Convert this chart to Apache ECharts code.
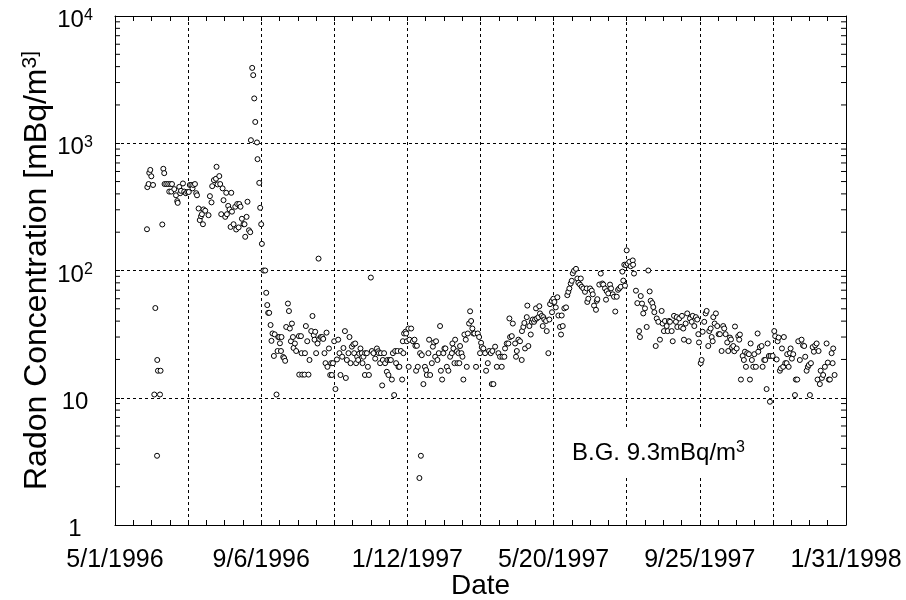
<!DOCTYPE html>
<html><head><meta charset="utf-8">
<script src="https://cdn.jsdelivr.net/npm/echarts@6/dist/echarts.min.js"></script>
<style>html,body{margin:0;padding:0;background:#fff}#c{width:906px;height:600px}</style>
</head><body><div id="c"></div>
<script>
// x axis: days since 5/1/1996
const xTickLabels = ['5/1/1996', '9/6/1996', '1/12/1997', '5/20/1997', '9/25/1997', '1/31/1998'];
const yTickLabels = ['1', '10', '10^2', '10^3', '10^4'];
const yMinorTickValues = [2,3,4,5,6,7,8,9,20,30,40,50,60,70,80,90,200,300,400,500,600,700,800,900,2000,3000,4000,5000,6000,7000,8000,9000];
const xAxisTitle = 'Date';
const yAxisTitle = 'Radon Concentration [mBq/m^3]';
const annotationText = 'B.G. 9.3mBq/m^3';

const dayOffsets = [
28.0,28.3,29.4,30.0,30.9,31.8,33.3,34.4,35.3,36.8,37.0,37.6,39.4,39.9,41.4,42.3,43.1,43.4,44.9,46.6,
47.5,48.4,49.3,49.9,51.9,53.4,54.5,54.9,56.3,57.1,57.8,59.5,60.6,62.0,63.3,64.6,65.5,66.8,67.9,68.5,
70.0,71.1,71.8,73.2,74.2,75.3,76.1,77.0,77.5,79.0,81.9,83.1,84.5,85.1,86.6,88.4,88.9,89.8,91.3,92.1,
93.0,94.2,95.0,96.5,97.4,98.0,99.1,100.3,101.2,101.8,102.4,103.8,105.3,106.1,107.0,108.2,108.8,109.9,111.1,112.5,
113.4,114.0,115.2,116.0,117.3,118.4,119.0,120.1,121.0,121.9,122.8,124.3,124.8,126.3,127.1,128.0,128.6,130.0,131.5,132.4,
133.3,134.1,135.0,136.2,137.0,137.9,139.1,139.8,141.4,142.3,142.9,143.8,144.4,145.3,145.8,147.3,148.1,149.0,149.9,151.4,
152.3,153.1,154.0,154.9,155.8,156.3,157.5,158.6,161.0,161.3,162.8,163.3,163.9,165.9,166.3,167.1,168.3,169.4,170.3,171.8,
172.9,174.0,174.7,175.3,176.1,177.3,178.2,178.8,180.1,181.4,182.3,183.4,184.3,185.2,186.0,187.3,188.4,189.3,189.9,190.8,
191.9,193.0,194.3,195.4,196.5,197.4,198.9,200.0,201.3,202.1,203.0,204.4,205.3,206.2,207.4,208.8,209.4,210.3,211.1,212.0,
212.9,213.8,214.9,216.1,216.7,217.5,218.8,219.0,220.5,221.4,222.3,224.0,224.9,226.3,227.8,229.3,230.4,231.0,232.1,232.8,
233.9,234.5,235.6,236.5,238.0,238.5,239.4,240.3,241.5,242.4,243.3,244.4,245.3,246.1,247.3,248.2,249.0,250.3,251.4,252.0,
252.5,253.1,254.3,254.9,255.5,256.9,257.1,257.8,259.3,260.8,262.2,263.0,263.6,264.3,265.1,266.5,267.1,267.8,268.6,270.0,
271.3,272.4,273.0,274.4,275.0,275.9,277.4,278.3,279.4,280.3,281.1,282.3,283.5,284.6,285.3,286.4,287.5,288.4,289.3,290.5,
291.9,293.4,294.9,295.4,296.3,297.2,297.8,299.3,299.8,300.7,301.5,302.1,303.3,304.2,305.0,305.9,307.1,308.0,308.9,310.0,
310.9,311.8,312.9,313.8,314.7,316.1,317.6,318.8,319.6,320.5,321.1,322.5,324.0,324.9,326.4,327.5,329.0,329.9,330.4,331.3,
332.8,334.3,335.7,337.1,338.6,339.2,340.9,341.5,343.0,344.4,345.3,345.9,347.4,348.3,350.3,351.1,351.8,353.2,354.6,356.1,
356.3,357.5,358.4,359.0,360.5,361.0,361.9,362.8,364.0,364.9,365.8,366.9,367.8,368.6,369.3,370.7,371.5,372.1,373.6,374.5,
375.0,375.9,377.4,378.0,379.4,380.3,380.9,382.4,382.6,383.8,384.7,385.9,387.3,388.2,389.6,390.5,391.1,392.0,393.4,394.9,
396.0,396.9,397.8,399.0,399.9,400.8,401.9,403.6,404.8,405.7,407.1,407.8,408.6,410.0,411.5,413.0,413.5,414.4,415.9,417.4,
418.3,419.4,421.1,421.8,422.3,424.0,425.3,426.7,427.5,429.0,429.9,430.5,431.9,433.4,434.3,435.8,436.9,438.0,439.3,440.4,
441.5,442.8,444.2,445.0,445.9,446.5,447.4,448.0,448.9,450.3,451.5,453.3,453.6,454.4,456.1,457.3,458.8,459.6,460.3,461.4,
462.5,464.0,465.5,466.9,468.1,469.0,470.4,471.3,472.2,473.4,474.3,475.7,477.1,478.6,479.5,480.6,481.5,483.0,483.9,485.0,
485.9,487.4,488.3,489.4,491.1,491.8,492.3,494.0,495.5,496.4,497.5,498.1,499.6,501.0,502.3,503.4,504.9,505.8,507.2,508.6,
509.8,510.7,511.3,512.8,513.6,514.5,515.9,517.1,518.0,519.4,520.3,521.5,522.4,523.3,523.8,525.0,526.1,527.3,528.5,529.6,
531.1,532.5,533.4,534.6,536.0,536.9,538.4,539.3,540.1,541.3,542.2,542.8,544.3,545.7,546.5,547.1,548.0,549.5,550.6,551.5,
552.4,553.5,555.0,555.9,556.5,557.6,558.8,559.7,561.1,562.6,563.2,564.6,566.1,567.0,568.4,569.3,570.5,571.4,572.5,573.4,
574.0,575.8,577.2,578.0,579.3,580.1,581.0,582.1,583.0,583.9,585.0,585.6,586.8,588.0,588.5,589.8,590.9,591.5,592.6,593.8,
595.3,596.1,597.3,598.2,599.6,601.1,602.3,603.4,604.3,605.5,606.6,607.5,608.4,609.3,610.8,611.9,613.0,614.3,615.1,616.0,
617.1,617.8,618.9,620.0,621.5,623.0,624.1,625.0,625.9,627.4,628.3,628.8,630.0
];
const radonValues = [
211,452,478,585,617,550,470,10.6,50.7,3.5,19.8,16.3,10.6,16.3,230,630,582,478,478,478,
417,478,417,478,436,390,351,340,454,405,423,483,417,405,414,414,470,470,442,470,
478,405,390,307,249,267,277,231,302,295,272,384,343,460,513,526,653,475,552,478,
277,442,357,264,408,277,322,302,220,408,290,231,317,210,333,218,333,317,255,231,
231,184,264,347,207,200,1057,3910,3430,2250,1470,1015,750,488,311,231,162,100,100,66.8,
53.5,46.5,46.5,37.3,28,32,21.3,31.5,10.6,23.3,30,30,26.8,23.3,30,20.9,20.5,19.5,36,55,
48,35,27.8,38.3,30,24.6,26.7,23.3,30.5,15.2,30.5,22.4,15.2,15.2,22.4,36.6,27.8,15.2,19.8,33.4,
43.9,31,28.6,33,22.4,26.7,124,29,30,30,29,22.4,18.7,32.5,17.5,24.4,15.1,18.7,15.1,18.7,
27.8,11.7,20,28.6,22.4,15.1,21,24.6,33.4,14.3,19.8,22.4,30,18.7,25.2,26.3,22.4,26.7,18.7,21,
19.8,22.2,24.4,22.4,18.7,21,15.1,22.4,22.4,17.5,15.1,88,23.3,22.4,20.3,24.4,23.2,22.4,18.7,22.4,
12.5,19.8,22.4,18.7,16,19.8,15.1,19.8,19.8,13.9,22.4,10.5,23.3,18.7,23.3,17.5,17.5,23.3,13.9,27.8,
22.4,32,33,32,27.8,35,17.5,28.6,35,27.8,28.6,25.6,16.3,25.6,17.5,2.34,22.4,3.5,21.6,12.8,
17.5,16.5,15.1,22.4,28.6,15.1,18.7,25.2,27.2,21,27.8,19.8,22.4,36.6,16.3,13.9,22.4,24.4,24.4,17.5,
16.3,21,22.4,26.7,24.4,18.7,28.6,23.2,18.7,22.4,18.7,25.5,22.4,21,13.9,31.4,28.6,17.5,32,38.3,
47.8,40.1,35,32,32,17.5,32,30,22.4,27,25,24.4,22.4,16.3,18.7,23.3,22.4,12.8,23.3,12.8,
25.2,17.5,22.4,21,17.5,21,21,24.4,26.7,26.7,42,30,30.5,38.3,26.7,21,23.3,28.6,27.8,19.8,
33.4,36,38.7,24.4,43,53,25.5,36.6,31.4,39.5,41.2,39.5,41.2,50.4,42,43,52.4,46,44,36.6,
43,41.2,40.1,33.4,22.4,41.2,54.4,57.5,47,60,56.6,51.3,61.6,44.3,36,31.4,44.3,36.6,50.4,51.3,
64,68,72.3,79,83,95,99.6,103,86.5,80,77.5,86.5,74.5,72.3,68,72.3,56.6,60,72.3,69.4,
65,53,49.1,57.8,59.5,77.5,94.6,79,77.5,72.3,59,68.8,66,77.5,72.3,65,62.2,47.6,62.2,70.5,
72.3,74.5,98,83.3,111,76,110,144,113,117,108,120,111,94.6,69.4,55.4,33.4,30,63,55,
46,50.4,36,100,68.5,57.8,55.4,51.6,47,25.5,42,39.5,28.6,48.1,38.3,33.4,40.1,36.6,33.4,40.1,
39.5,33.4,27.8,44,39.5,43,36,42,36,44,35,28.6,38.3,46,27.8,42,39.5,44,36.6,43,
41.2,31.6,27.2,18.7,19.8,33,39.5,46,48.1,25.5,33.4,35,30,27.8,43,38.3,46,36.6,31.6,31.6,
23.3,36.6,35,31.6,27.2,23.3,29.7,28.7,24.8,25.5,23.2,36.3,24.4,30.5,28.6,31.4,13.9,21.3,19.8,23,
17.5,22.4,22,13.9,26.7,19.8,17.5,22,17.5,32,23,25,25.5,17.5,19.8,19.8,11.7,26.7,21.3,9.3,
21.3,21.3,33.4,30.5,20,27.8,29.7,16.3,17,24.4,17.5,30,18.7,18.7,22,17.5,22.4,24.4,20.3,22,
10.5,13.9,13.9,27.8,19.8,28.6,25.8,25.5,21,16.3,17.5,18.1,10.5,18.7,25,23,25.8,26.7,13.9,23.3,
12.8,16.3,14.3,15.1,17.5,26.7,18.9,13.9,13.9,22.4,18.7,24.4,15.1
];

const FONT = '"Liberation Sans", Arial, Helvetica, sans-serif';
function supRich(s) {
  const p = s.split('^');
  return p.length > 1 ? '{b|' + p[0] + '}{s|' + p[1] + '}' : '{b|' + s + '}';
}
function richStyles(size, supSize) {
  return {
    b: { fontSize: size, fontFamily: FONT, color: '#000', lineHeight: size + 2 },
    s: { fontSize: supSize, fontFamily: FONT, color: '#000', lineHeight: 10, verticalAlign: 'top' }
  };
}

const X_MIN = 0, X_MAX = 640;
const scatterData = dayOffsets.map((d, i) => [d, radonValues[i]]);
const minorTickData = yMinorTickValues.map(v => [X_MIN, v]);

const chart = echarts.init(document.getElementById('c'), null, { renderer: 'canvas' });
const gridLine = { show: true, lineStyle: { color: '#000', width: 1, type: [3, 3] } };
const xCommon = {
  type: 'value', min: X_MIN, max: X_MAX, interval: 64,
  axisLine: { show: true, onZero: false, lineStyle: { color: '#000', width: 1 } },
  axisTick: { show: true, inside: true, length: 5, lineStyle: { color: '#000' } },
  minorTick: { show: true, splitNumber: 4, length: 5, lineStyle: { color: '#000' } },
};
chart.setOption({
  animation: false,
  backgroundColor: '#fff',
  grid: { left: 115, right: 60, top: 16, bottom: 75, containLabel: false, outerBoundsMode: 'none' },
  xAxis: [
    Object.assign({}, xCommon, {
      position: 'bottom',
      name: xAxisTitle, nameLocation: 'middle', nameGap: 47, nameMoveOverlap: false,
      nameTextStyle: { fontSize: 28, fontFamily: FONT, color: '#000' },
      splitLine: gridLine,
      axisLabel: {
        show: true, margin: 23, fontSize: 25, fontFamily: FONT, color: '#000',
        showMinLabel: true, showMaxLabel: true,
        formatter: v => (v % 128 === 0 ? xTickLabels[v / 128] : '')
      }
    }),
    Object.assign({}, xCommon, {
      position: 'top', splitLine: { show: false }, axisLabel: { show: false }
    })
  ],
  yAxis: [
    {
      type: 'log', logBase: 10, min: 1, max: 10000, position: 'left',
      name: supRich(yAxisTitle), nameLocation: 'middle', nameGap: 61, nameRotate: 90, nameMoveOverlap: false,
      nameTextStyle: { rich: richStyles(32, 21) },
      axisLine: { show: true, onZero: false, lineStyle: { color: '#000', width: 1 } },
      axisTick: { show: true, inside: true, length: 5, lineStyle: { color: '#000' } },
      splitLine: gridLine,
      axisLabel: {
        show: true, margin: 40, align: 'center', padding: [9, 0, 0, 0],
        formatter: v => supRich(yTickLabels[Math.round(Math.log10(v))]),
        rich: richStyles(24, 16)
      }
    },
    {
      type: 'log', logBase: 10, min: 1, max: 10000, position: 'right',
      axisLine: { show: true, onZero: false, lineStyle: { color: '#000', width: 1 } },
      axisTick: { show: true, inside: true, length: 5, lineStyle: { color: '#000' } },
      splitLine: { show: false }, axisLabel: { show: false }
    }
  ],
  series: [
    {
      type: 'custom', xAxisIndex: 0, yAxisIndex: 0, silent: true, clip: false,
      data: minorTickData, encode: { x: 0, y: 1 },
      renderItem: function (params, api) {
        const v = api.value(1);
        const pL = api.coord([X_MIN, v]);
        const pR = api.coord([X_MAX, v]);
        return {
          type: 'group', children: [
            { type: 'line', shape: { x1: pL[0], y1: pL[1], x2: pL[0] + 5, y2: pL[1] }, style: { stroke: '#000', lineWidth: 1 } },
            { type: 'line', shape: { x1: pR[0] - 5, y1: pR[1], x2: pR[0], y2: pR[1] }, style: { stroke: '#000', lineWidth: 1 } }
          ]
        };
      }
    },
    {
      type: 'scatter', xAxisIndex: 0, yAxisIndex: 0,
      data: scatterData, symbol: 'circle', symbolSize: 5,
      itemStyle: { color: '#fff', borderColor: '#000', borderWidth: 1, opacity: 1 },
      z: 5
    }
  ],
  graphic: [
    { type: 'rect', shape: { x: 556, y: 427, width: 215, height: 49 }, style: { fill: '#fff' }, z: 10 },
    { type: 'text', x: 572, y: 453, z: 11,
      style: { text: supRich(annotationText), rich: richStyles(24, 16), align: 'left', verticalAlign: 'middle' } }
  ]
});
</script>
</body></html>
